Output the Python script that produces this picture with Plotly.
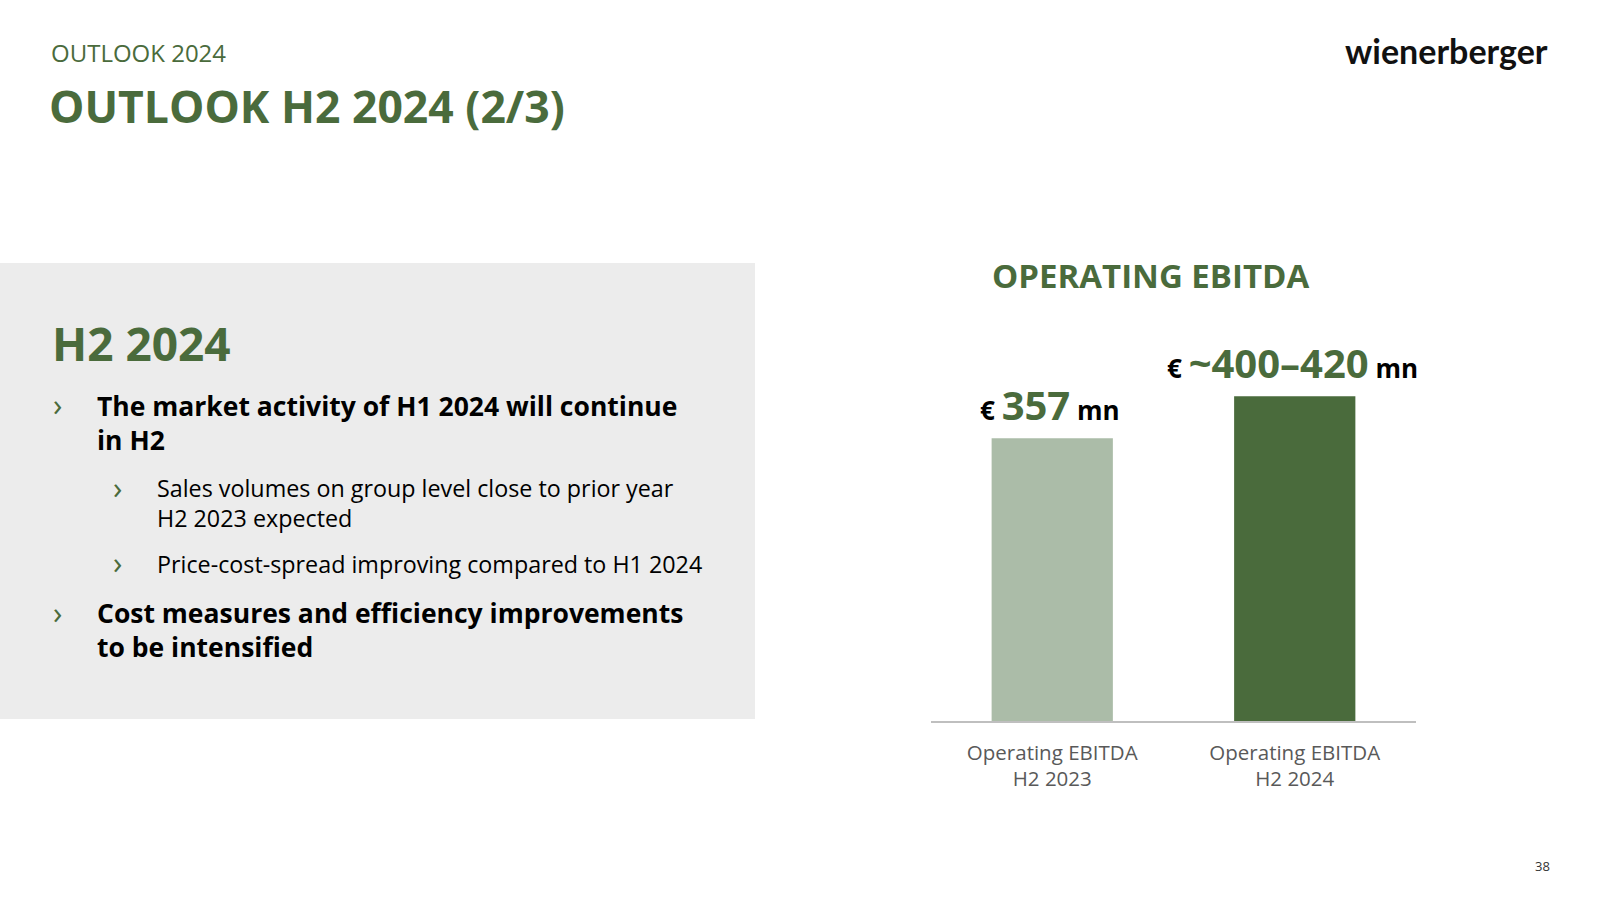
"""Outlook H2 2024 slide: operating EBITDA bar chart with text panel."""

import plotly.graph_objects as go

# data
categories = ["Operating EBITDA<br>H2 2023", "Operating EBITDA<br>H2 2024"]
ebitda_mn = [357, 410]  # H2 2024 shown as midpoint of the ~400-420 guidance
value_labels = ["357", "~400–420"]
bar_colors = ["#abbca8", "#4a6b3c"]

GREEN = "#4a6b3c"
W, H = 1600, 900
FONT = "Open Sans"


def px(x):
    return x / W


def py(y):
    return 1 - y / H


fig = go.Figure()

fig.add_trace(
    go.Bar(
        x=categories,
        y=ebitda_mn,
        marker=dict(color=bar_colors, line=dict(width=0)),
        width=0.5,
        hoverinfo="skip",
    )
)

# value labels above bars
for cat, val, lab in zip(categories, ebitda_mn, value_labels):
    fig.add_annotation(
        x=cat, y=val, xref="x", yref="y",
        text=(
            "<b>€ </b>"
            f"<b><span style='font-size:40px;color:{GREEN}'>{lab}</span></b>"
            "<b> mn</b>"
        ),
        showarrow=False,
        yanchor="bottom",
        yshift=4,
        xshift=-2,
        font=dict(family=FONT, size=26, color="#000000"),
    )

# grey text panel
fig.add_shape(
    type="rect", xref="paper", yref="paper",
    x0=0, x1=px(755), y0=py(719), y1=py(263),
    fillcolor="#ececec", line=dict(width=0), layer="below",
)


def text(x, y, s, size, color="#000000", bold=False, anchor="left", family=FONT):
    fig.add_annotation(
        x=px(x), y=py(y), xref="paper", yref="paper",
        text=f"<b>{s}</b>" if bold else s,
        showarrow=False, xanchor=anchor, yanchor="middle", align="left",
        font=dict(family=family, size=size, color=color),
    )


# header
text(49, 53, "OUTLOOK 2024", 24, GREEN)
text(47, 106, "OUTLOOK H2 2024 (2/3)", 44.5, GREEN, bold=True)
text(1550, 51, "wienerberger", 34, "#111111", bold=True, anchor="right", family="Lato")
text(1552, 866, "38", 13, "#333333", anchor="right")

# panel text
text(50, 343, "H2 2024", 46, GREEN, bold=True)
bullets = [
    (51, 95, [406, 439], ["The market activity of H1 2024 will continue", "in H2"], True),
    (111, 155, [489, 517], ["Sales volumes on group level close to prior year", "H2 2023 expected"], False),
    (111, 155, [564], ["Price-cost-spread improving compared to H1 2024"], False),
    (51, 95, [614, 646], ["Cost measures and efficiency improvements", "to be intensified"], True),
]
for bx, tx, ys, lines, bold in bullets:
    text(bx, ys[0] - 2, "›", 31, GREEN)
    size = 26.5 if bold else 23.3
    text(tx, sum(ys) / len(ys), "<br>".join(lines), size, "#000000", bold=bold)

# chart title
text(990, 275, "OPERATING EBITDA", 33, GREEN, bold=True)

fig.update_layout(
    width=W, height=H,
    margin=dict(l=0, r=0, t=0, b=0),
    paper_bgcolor="white", plot_bgcolor="white",
    showlegend=False,
    font=dict(family=FONT),
    xaxis=dict(
        domain=[px(931), px(1416)],
        range=[-0.5, 1.5],
        showline=True, linecolor="#bfbfbf", linewidth=2,
        showgrid=False, ticks="",
        ticklabelstandoff=12,
        tickfont=dict(family=FONT, size=20.5, color="#595959"),
        fixedrange=True,
    ),
    yaxis=dict(
        domain=[py(721), py(325)],
        range=[0, 500],
        visible=False, showgrid=False, zeroline=False,
        fixedrange=True,
    ),
)

# page body has a default 8px margin; remove it so the slide sits at 0,0
fig.write_html(
    "out.html",
    config={"displayModeBar": False},
    post_script="document.body.style.margin='0';",
)
